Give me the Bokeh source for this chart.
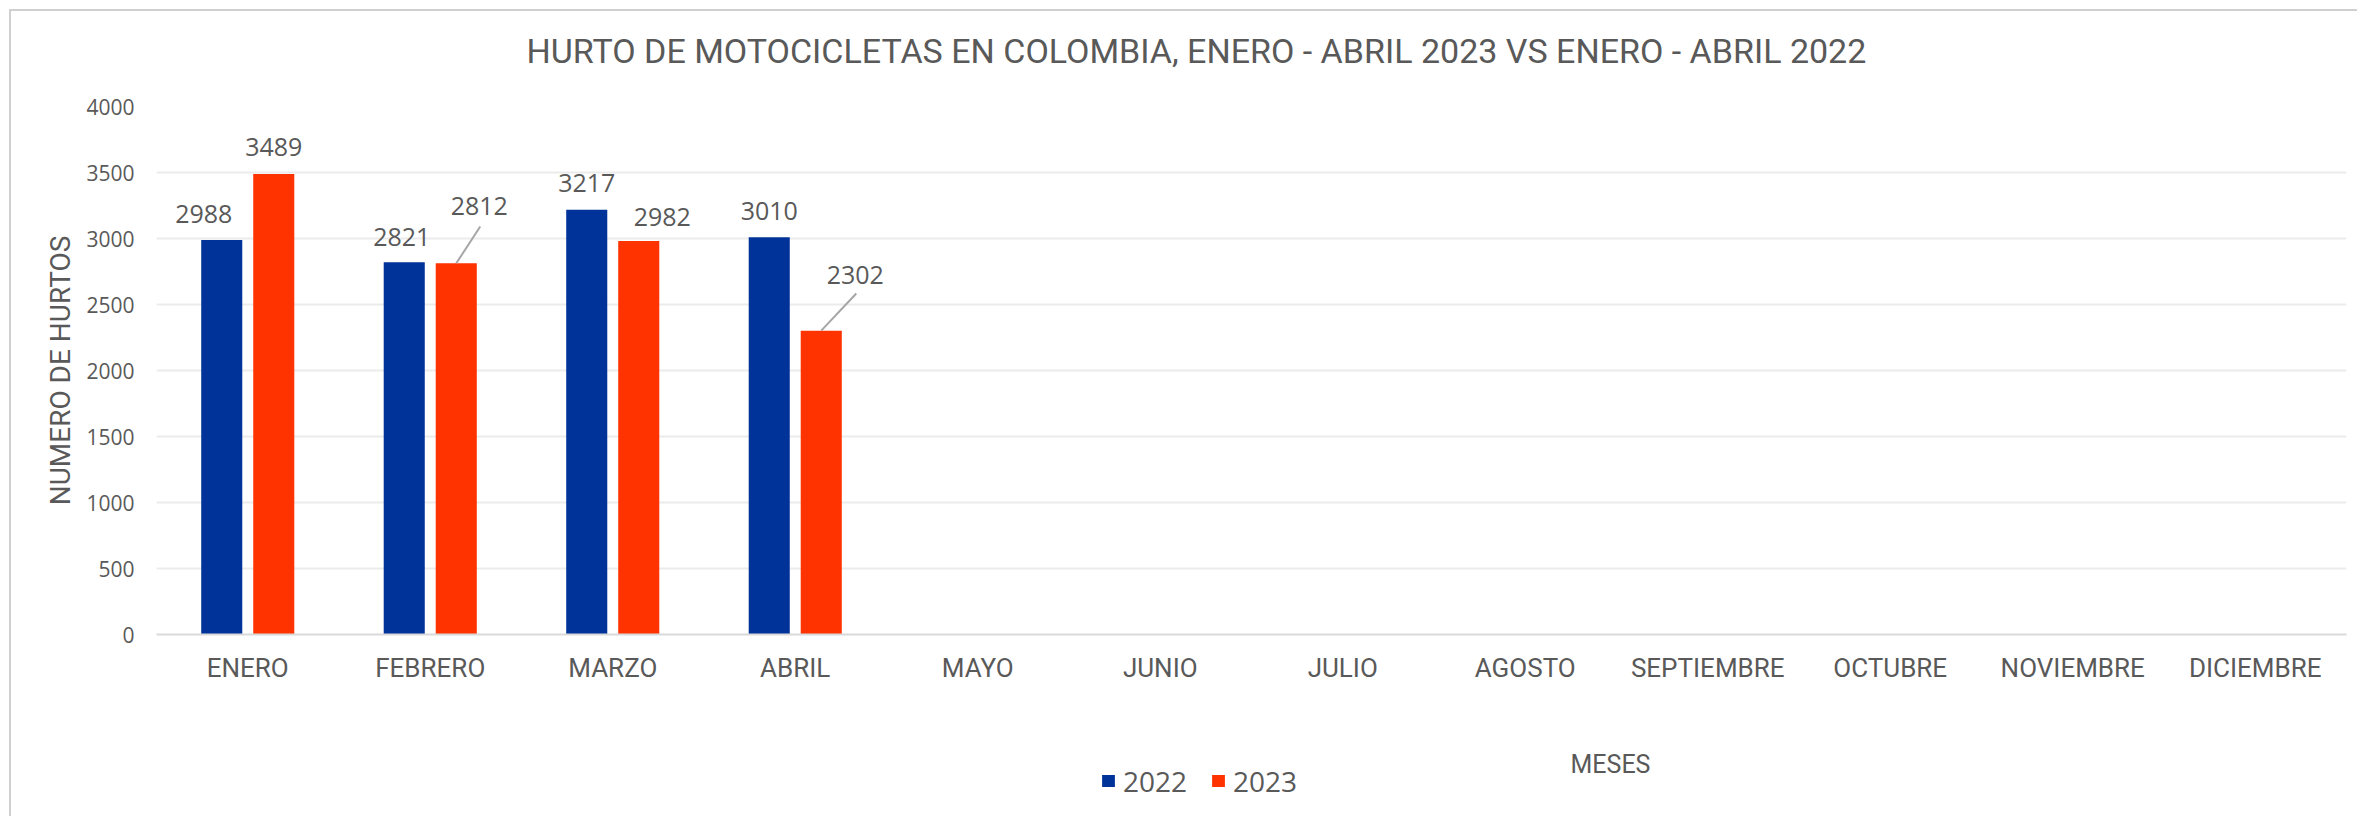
from bokeh.plotting import figure
from bokeh.models import (FactorRange, Range1d, FixedTicker, ColumnDataSource,
                          Label, Legend, LegendItem)
from bokeh.layouts import column
from bokeh.transform import dodge
from bokeh.core.properties import value
from bokeh.embed import file_html
from bokeh.resources import INLINE

# ---------------- data ----------------
months = ["ENERO", "FEBRERO", "MARZO", "ABRIL", "MAYO", "JUNIO", "JULIO",
          "AGOSTO", "SEPTIEMBRE", "OCTUBRE", "NOVIEMBRE", "DICIEMBRE"]
data_months = ["ENERO", "FEBRERO", "MARZO", "ABRIL"]
hurtos_2022 = [2988, 2821, 3217, 3010]
hurtos_2023 = [3489, 2812, 2982, 2302]
series_names = ["2022", "2023"]
y_ticks = [0, 500, 1000, 1500, 2000, 2500, 3000, 3500, 4000]
title_text = "HURTO DE MOTOCICLETAS EN COLOMBIA, ENERO - ABRIL 2023 VS ENERO - ABRIL 2022"
x_title = "MESES"
y_title = "NUMERO DE HURTOS"

# ---------------- style ----------------
BLUE = "#003399"
RED = "#FF3300"
TXT = "#595959"
COND = "Roboto"
SANS = "Open Sans"
BAR_W = 0.225
DODGE = 0.1425
# manual label offsets (screen px) relative to bar top centre
lab22_dx = [-18, -2.5, 0, 0]
lab22_dy = [-26, -25.6, -26.5, -26]
lab23_dx = [0, 23, 23.5, 34]
lab23_dy = [-26.5, -57, -24, -55.5]
# leader lines for 2023 labels (month index, dx in category units, dy in data units)
leaders = [(1, 0.1315, 279), (3, 0.192, 281)]

W, H0, H1, H2 = 2346, 75, 603, 127


def strip(height):
    f = figure(width=W, height=height, x_range=Range1d(0, 1), y_range=Range1d(0, 1),
               output_backend="svg", toolbar_location=None, x_axis_type=None,
               y_axis_type=None, min_border_left=0, min_border_right=0,
               min_border_top=0, min_border_bottom=0)
    f.outline_line_color = None
    f.grid.visible = False
    return f


# ---- top strip: chart title ----
p0 = strip(H0)
p0.add_layout(Label(x=370, y=35.5, x_units="screen", y_units="screen", text=title_text,
                    text_align="left", text_baseline="middle", text_font=COND,
                    text_font_size="34px", text_color=TXT))

# ---- main chart ----
p = figure(x_range=FactorRange(*months, range_padding=0), y_range=Range1d(0, 4000),
           width=W, height=H1, output_backend="svg", toolbar_location=None,
           min_border_left=145, min_border_right=11, min_border_top=20,
           min_border_bottom=55)
p.outline_line_color = None
p.background_fill_color = "white"
p.border_fill_color = "white"

src22 = ColumnDataSource(dict(m=data_months, v=hurtos_2022,
                              t=[str(v) for v in hurtos_2022], dx=lab22_dx, dy=lab22_dy))
src23 = ColumnDataSource(dict(m=data_months, v=hurtos_2023,
                              t=[str(v) for v in hurtos_2023], dx=lab23_dx, dy=lab23_dy))

r22 = p.vbar(x=dodge("m", -DODGE, range=p.x_range), top="v", width=BAR_W, source=src22,
             fill_color=BLUE, line_color=None)
r23 = p.vbar(x=dodge("m", DODGE, range=p.x_range), top="v", width=BAR_W, source=src23,
             fill_color=RED, line_color=None)

for i, dx, dy in leaders:
    s = ColumnDataSource(dict(m=[data_months[i]], y0=[hurtos_2023[i]], y1=[hurtos_2023[i] + dy]))
    p.segment(x0=dodge("m", DODGE, range=p.x_range), y0="y0",
              x1=dodge("m", DODGE + dx, range=p.x_range), y1="y1",
              source=s, line_color="#a6a6a6", line_width=2)

for src, off in ((src22, -DODGE), (src23, DODGE)):
    p.text(x=dodge("m", off, range=p.x_range), y="v", text="t", source=src,
           x_offset="dx", y_offset="dy", text_align="center", text_baseline="middle",
           text_font=value(SANS), text_font_size="25px", text_color=TXT)

p.yaxis.ticker = FixedTicker(ticks=y_ticks)
p.yaxis.axis_line_color = None
p.yaxis.major_tick_line_color = None
p.yaxis.minor_tick_line_color = None
p.yaxis.major_tick_out = 0
p.yaxis.major_tick_in = 0
p.yaxis.minor_tick_out = 0
p.yaxis.major_label_standoff = 22
p.yaxis.major_label_text_font = SANS
p.yaxis.major_label_text_font_size = "21px"
p.yaxis.major_label_text_color = TXT
p.yaxis.axis_label = y_title
p.yaxis.axis_label_text_font = COND
p.yaxis.axis_label_text_font_size = "28px"
p.yaxis.axis_label_text_font_style = "normal"
p.yaxis.axis_label_text_color = TXT
p.yaxis.axis_label_standoff = 6

p.xaxis.axis_line_color = "#d9d9d9"
p.xaxis.axis_line_width = 2
p.xaxis.major_tick_line_color = None
p.xaxis.minor_tick_line_color = None
p.xaxis.major_tick_out = 0
p.xaxis.major_tick_in = 0
p.xaxis.major_label_standoff = 18
p.xaxis.major_label_text_font = COND
p.xaxis.major_label_text_font_size = "26px"
p.xaxis.major_label_text_color = TXT

p.xgrid.grid_line_color = None
p.ygrid.grid_line_color = "#ebebeb"
p.ygrid.grid_line_width = 2

# ---- bottom strip: x-axis title and legend ----
p2 = strip(H2)
# zero-height proxies that carry the series colours for the legend keys
k22 = p2.vbar(x=[0.5], bottom=[0], top=[0], width=0.1, fill_color=BLUE, line_color=None)
k23 = p2.vbar(x=[0.5], bottom=[0], top=[0], width=0.1, fill_color=RED, line_color=None)

p2.add_layout(Label(x=1454, y=52, x_units="screen", y_units="screen", text=x_title,
                    text_align="center", text_baseline="middle", text_font=COND,
                    text_font_size="25px", text_color=TXT))

legend = Legend(items=[LegendItem(label=series_names[0], renderers=[k22]),
                       LegendItem(label=series_names[1], renderers=[k23])],
                orientation="horizontal", location=(944, 16.5),
                glyph_width=16, glyph_height=15, label_standoff=7, spacing=23,
                padding=0, margin=0, border_line_color=None, background_fill_alpha=0,
                label_text_font=SANS, label_text_font_size="28px", label_text_color=TXT)
p2.add_layout(legend, "center")

page = column(p0, p, p2, spacing=0,
              styles={"border-top": "2px solid #d0d0d0", "border-left": "2px solid #d0d0d0",
                      "margin-top": "9px", "margin-left": "9px"})

open("out.html", "w").write(file_html(page, INLINE))
